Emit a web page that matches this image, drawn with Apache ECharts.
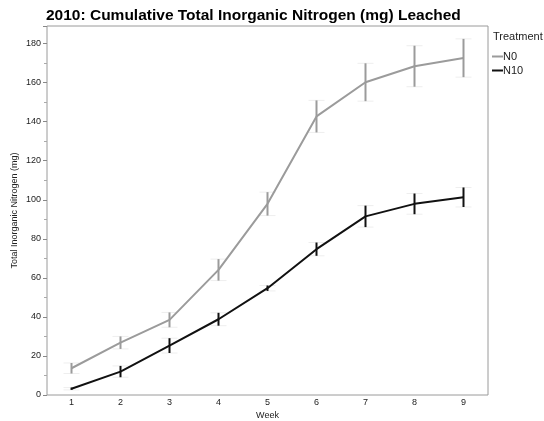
<!DOCTYPE html>
<html><head><meta charset="utf-8">
<script src="https://cdn.jsdelivr.net/npm/echarts@6/dist/echarts.min.js"></script>
<style>html,body{margin:0;padding:0;background:#fff}#c{width:544px;height:421px}</style>
</head><body><div id="c"></div>
<script>
var weeks = ['1','2','3','4','5','6','7','8','9'];
var n0Mean = [13.7, 26.8, 38.5, 64.1, 97.9, 142.7, 160.2, 168.4, 172.6];
var n0Err  = [2.7, 3.2, 3.8, 5.5, 6.0, 8.2, 9.7, 10.5, 9.8];
var n10Mean = [3.2, 12.0, 25.3, 38.8, 54.7, 74.7, 91.5, 97.9, 101.3];
var n10Err  = [0.6, 2.9, 3.8, 3.3, 1.4, 3.4, 5.5, 5.3, 5.0];
var yTicks = [0, 20, 40, 60, 80, 100, 120, 140, 160, 180];

var FONT = 'Liberation Sans, Arial, Helvetica, sans-serif';

function errSeries(name, mean, err, color) {
  var data = mean.map(function (m, i) { return [i, m - err[i], m + err[i]]; });
  return {
    type: 'custom', name: name + ' err', silent: true, z: 3,
    data: data,
    renderItem: function (params, api) {
      var lo = api.coord([api.value(0), api.value(1)]);
      var hi = api.coord([api.value(0), api.value(2)]);
      var x = lo[0];
      return {
        type: 'group', children: [
          { type: 'line', shape: { x1: x - 8, y1: lo[1], x2: x + 8, y2: lo[1] }, style: { stroke: '#eeeeee', lineWidth: 1 } },
          { type: 'line', shape: { x1: x - 8, y1: hi[1], x2: x + 8, y2: hi[1] }, style: { stroke: '#eeeeee', lineWidth: 1 } },
          { type: 'line', shape: { x1: x, y1: lo[1], x2: x, y2: hi[1] }, style: { stroke: color, lineWidth: 2 } }
        ]
      };
    }
  };
}

var chart = echarts.init(document.getElementById('c'), null, { renderer: 'canvas' });
chart.setOption({
  animation: false,
  textStyle: { fontFamily: FONT },
  title: {
    text: '2010: Cumulative Total Inorganic Nitrogen (mg) Leached',
    left: 41, top: 3,
    textStyle: { fontSize: 15.5, fontWeight: 'bold', color: '#000', fontFamily: FONT }
  },
  graphic: [{
    type: 'text', left: 493, top: 31,
    style: { text: 'Treatment', fontSize: 11, fill: '#222', fontFamily: FONT }
  }],
  legend: {
    orient: 'vertical', left: 492, top: 51, itemGap: 3, padding: 0,
    itemWidth: 11, itemHeight: 2, icon: 'rect',
    textStyle: { fontSize: 11, color: '#222', padding: [0, 0, 0, -5], fontFamily: FONT },
    data: ['N0', 'N10']
  },
  grid: { left: 47, right: 56, top: 26, bottom: 26, outerBoundsMode: 'none', containLabel: false,
    show: true, borderColor: '#9a9a9a', borderWidth: 1 },
  xAxis: {
    type: 'category', data: weeks, boundaryGap: true,
    name: 'Week', nameLocation: 'middle', nameGap: 16, nameMoveOverlap: false,
    nameTextStyle: { fontSize: 9, color: '#222' },
    axisLine: { show: false }, axisTick: { show: false },
    axisLabel: { fontSize: 9, color: '#222', margin: 3 },
    splitLine: { show: false }
  },
  yAxis: {
    type: 'value', min: 0, max: 189, interval: 20,
    name: 'Total Inorganic Nitrogen (mg)', nameLocation: 'middle', nameGap: 28, nameMoveOverlap: false,
    nameTextStyle: { fontSize: 9, color: '#222' },
    axisLine: { show: false },
    axisTick: { show: true, length: 4, lineStyle: { color: '#888' } },
    minorTick: { show: true, splitNumber: 2, length: 3, lineStyle: { color: '#aaa' } },
    axisLabel: { fontSize: 9, color: '#222', margin: 6,
      formatter: function (v) { return yTicks.indexOf(v) >= 0 ? String(v) : ''; } },
    splitLine: { show: false }
  },
  series: [
    { name: 'N0', type: 'line', data: n0Mean, symbol: 'none', z: 4,
      lineStyle: { color: '#9b9b9b', width: 2 }, itemStyle: { color: '#9b9b9b' } },
    { name: 'N10', type: 'line', data: n10Mean, symbol: 'none', z: 4,
      lineStyle: { color: '#111', width: 2 }, itemStyle: { color: '#111' } },
    errSeries('N0', n0Mean, n0Err, '#9b9b9b'),
    errSeries('N10', n10Mean, n10Err, '#111')
  ]
});
</script></body></html>
